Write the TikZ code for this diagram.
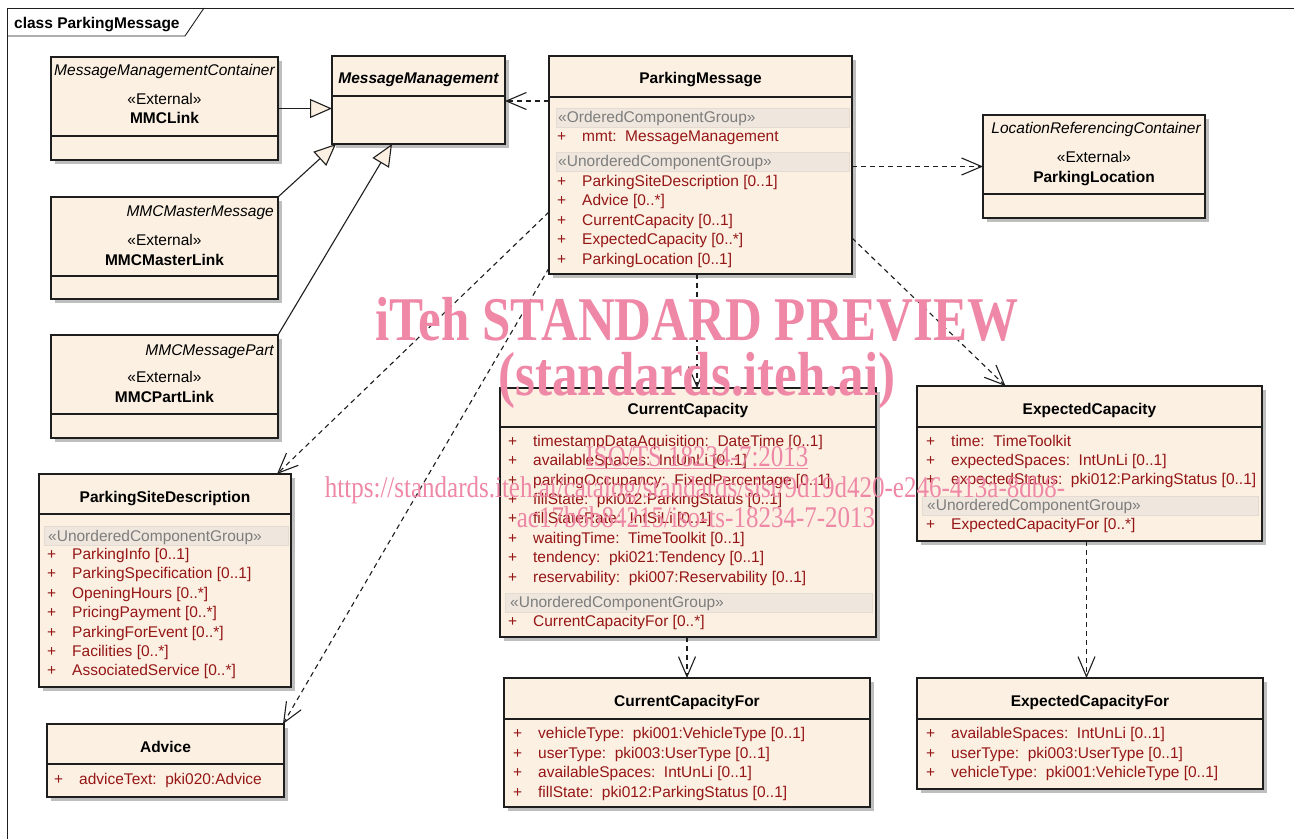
\documentclass[tikz,border=0pt]{standalone}
\usepackage{fontspec}
\setmainfont{Liberation Sans}
\newfontfamily\wmfont{Liberation Serif}
\usepackage{tikz}
\usetikzlibrary{arrows.meta,shadows,positioning}

\definecolor{clsfill}{RGB}{251,240,226}
\definecolor{clsline}{RGB}{30,30,30}
\definecolor{shadowgray}{RGB}{190,190,190}
\definecolor{attrred}{RGB}{150,22,22}
\definecolor{bandfill}{RGB}{239,231,221}
\definecolor{bandline}{RGB}{228,220,210}
\definecolor{bandtext}{RGB}{125,125,125}
\definecolor{wmpink}{RGB}{238,136,166}
\newcommand{\umlfont}{\fontsize{15.5}{19.4}\selectfont}
\newcommand{\umlplus}{\makebox[25pt][l]{+}}

\begin{document}
\begin{tikzpicture}[x=1pt, y=-1pt,
    cls/.style={rectangle, draw=clsline, fill=clsfill, line width=1.2pt, inner sep=0, outer sep=0, anchor=north west,
      drop shadow={shadow xshift=4pt, shadow yshift=-4pt, fill=shadowgray, opacity=1}},
    sep/.style={draw=clsline, line width=1.2pt},
    band/.style={rectangle, fill=bandfill, draw=bandline, line width=0.6pt, inner sep=0, anchor=north west, minimum height=19pt},
    ttl/.style={font=\umlfont\bfseries, inner sep=0, anchor=base},
    ttlit/.style={font=\umlfont\bfseries\itshape, inner sep=0, anchor=base},
    pkg/.style={font=\umlfont\itshape, inner sep=0, anchor=base east},
    stereo/.style={font=\umlfont, inner sep=0, anchor=base},
    grp/.style={font=\umlfont, text=bandtext, inner sep=0, anchor=base west},
    attr/.style={font=\umlfont, text=attrred, inner sep=0, anchor=base west},
    dep/.style={draw=clsline, line width=1.1pt, dash pattern=on 5pt off 4pt, -{Straight Barb[length=20pt, width=17pt, line width=1.1pt]}},
    gen/.style={draw=clsline, line width=1.1pt, -{Triangle[open, fill=clsfill, length=22pt, width=19pt, line width=1.1pt]}},
    wm/.style={text=wmpink, inner sep=0, anchor=base}
  ]
    \useasboundingbox[fill=white] (0,0) rectangle (1294,839);

    % Frame
    \draw[clsline, line width=0.9pt] (7,839) -- (7,8) -- (1294,8);
    \draw[clsline, line width=0.9pt] (7,36) -- (185,36) -- (204,8);
    \node[font=\umlfont\bfseries, inner sep=0, anchor=base west] (frame-t) at (14,28) {class ParkingMessage};

    % External classes
    \node[cls, minimum width=227pt, minimum height=103pt] (mmclink) at (51,57) {};
    \draw[sep] (51,136) -- (278,136);
    \node[pkg] (mmclink-p) at (275,75) {MessageManagementContainer};
    \node[stereo] (mmclink-s) at (164.5,104) {«External»};
    \node[ttl] (mmclink-t) at (164.5,123) {MMCLink};

    \node[cls, minimum width=227pt, minimum height=102pt] (mmcmaster) at (51,197) {};
    \draw[sep] (51,276) -- (278,276);
    \node[pkg] (mmcmaster-p) at (274,216) {MMCMasterMessage};
    \node[stereo] (mmcmaster-s) at (164.5,245) {«External»};
    \node[ttl] (mmcmaster-t) at (164.5,265) {MMCMasterLink};

    \node[cls, minimum width=227pt, minimum height=103pt] (mmcpart) at (51,335) {};
    \draw[sep] (51,414) -- (278,414);
    \node[pkg] (mmcpart-p) at (274,355) {MMCMessagePart};
    \node[stereo] (mmcpart-s) at (164.5,382) {«External»};
    \node[ttl] (mmcpart-t) at (164.5,402) {MMCPartLink};

    \node[cls, minimum width=222pt, minimum height=103pt] (ploc) at (983,115) {};
    \draw[sep] (983,194) -- (1205,194);
    \node[pkg] (ploc-p) at (1201,133) {LocationReferencingContainer};
    \node[stereo] (ploc-s) at (1094,162) {«External»};
    \node[ttl] (ploc-t) at (1094,182) {ParkingLocation};

    % Message management
    \node[cls, minimum width=173pt, minimum height=88pt] (mm) at (332,56) {};
    \draw[sep] (332,96) -- (505,96);
    \node[ttlit] (mm-t) at (418.5,83.5) {MessageManagement};

    % Parking message
    \node[cls, minimum width=303pt, minimum height=218pt] (pm) at (549,56) {};
    \draw[sep] (549,97) -- (852,97);
    \node[ttl] (pm-t) at (700.5,83.5) {ParkingMessage};
    \node[band, minimum width=293pt] (pm-b1) at (556,107.5) {};
    \node[grp] (pm-g1) at (558,122) {«OrderedComponentGroup»};
    \node[attr] (pm-a0) at (557,141) {\umlplus mmt:\ \ MessageManagement};
    \node[band, minimum width=293pt] (pm-b2) at (556,151.5) {};
    \node[grp] (pm-g2) at (558,166) {«UnorderedComponentGroup»};
    \node[attr] (pm-a1) at (557,186) {\umlplus ParkingSiteDescription [0..1]};
    \node[attr] (pm-a2) at (557,205) {\umlplus Advice [0..*]};
    \node[attr] (pm-a3) at (557,225) {\umlplus CurrentCapacity [0..1]};
    \node[attr] (pm-a4) at (557,244) {\umlplus ExpectedCapacity [0..*]};
    \node[attr] (pm-a5) at (557,264) {\umlplus ParkingLocation [0..1]};

    % Site description and advice
    \node[cls, minimum width=252pt, minimum height=213pt] (psd) at (39,474) {};
    \draw[sep] (39,514) -- (291,514);
    \node[ttl] (psd-t) at (165,502) {ParkingSiteDescription};
    \node[band, minimum width=244pt] (psd-b) at (44,525.5) {};
    \node[grp] (psd-g) at (48,541) {«UnorderedComponentGroup»};
    \node[attr] (psd-a1) at (47,559) {\umlplus ParkingInfo [0..1]};
    \node[attr] (psd-a2) at (47,578) {\umlplus ParkingSpecification [0..1]};
    \node[attr] (psd-a3) at (47,598) {\umlplus OpeningHours [0..*]};
    \node[attr] (psd-a4) at (47,617) {\umlplus PricingPayment [0..*]};
    \node[attr] (psd-a5) at (47,637) {\umlplus ParkingForEvent [0..*]};
    \node[attr] (psd-a6) at (47,656) {\umlplus Facilities [0..*]};
    \node[attr] (psd-a7) at (47,675) {\umlplus AssociatedService [0..*]};

    \node[cls, minimum width=237pt, minimum height=73pt] (advice) at (47,724) {};
    \draw[sep] (47,764) -- (284,764);
    \node[ttl] (advice-t) at (165.5,752) {Advice};
    \node[attr] (advice-a1) at (54,784) {\umlplus adviceText:\ \ pki020:Advice};

    % Current capacity
    \node[cls, minimum width=376pt, minimum height=249pt] (cc) at (500,388) {};
    \draw[sep] (500,427) -- (876,427);
    \node[ttl] (cc-t) at (688,414) {CurrentCapacity};
    \node[attr] (cc-a1) at (508,446) {\umlplus timestampDataAquisition:\ \ DateTime [0..1]};
    \node[attr] (cc-a2) at (508,465) {\umlplus availableSpaces:\ \ IntUnLi [0..1]};
    \node[attr] (cc-a3) at (508,485) {\umlplus parkingOccupancy:\ \ FixedPercentage [0..1]};
    \node[attr] (cc-a4) at (508,504) {\umlplus fillState:\ \ pki012:ParkingStatus [0..1]};
    \node[attr] (cc-a5) at (508,523) {\umlplus fillStateRate:\ \ IntSiLi [0..1]};
    \node[attr] (cc-a6) at (508,543) {\umlplus waitingTime:\ \ TimeToolkit [0..1]};
    \node[attr] (cc-a7) at (508,562) {\umlplus tendency:\ \ pki021:Tendency [0..1]};
    \node[attr] (cc-a8) at (508,582) {\umlplus reservability:\ \ pki007:Reservability [0..1]};
    \node[band, minimum width=367pt] (cc-b) at (505,592.5) {};
    \node[grp] (cc-g) at (510,607) {«UnorderedComponentGroup»};
    \node[attr] (cc-a9) at (508,626) {\umlplus CurrentCapacityFor [0..*]};

    \node[cls, minimum width=366pt, minimum height=129pt] (ccf) at (504,678) {};
    \draw[sep] (504,719) -- (870,719);
    \node[ttl] (ccf-t) at (687,706) {CurrentCapacityFor};
    \node[attr] (ccf-a1) at (513,738) {\umlplus vehicleType:\ \ pki001:VehicleType [0..1]};
    \node[attr] (ccf-a2) at (513,758) {\umlplus userType:\ \ pki003:UserType [0..1]};
    \node[attr] (ccf-a3) at (513,777) {\umlplus availableSpaces:\ \ IntUnLi [0..1]};
    \node[attr] (ccf-a4) at (513,797) {\umlplus fillState:\ \ pki012:ParkingStatus [0..1]};

    % Expected capacity
    \node[cls, minimum width=345pt, minimum height=155pt] (ec) at (917,386) {};
    \draw[sep] (917,427) -- (1262,427);
    \node[ttl] (ec-t) at (1089.5,414) {ExpectedCapacity};
    \node[attr] (ec-a1) at (926,446) {\umlplus time:\ \ TimeToolkit};
    \node[attr] (ec-a2) at (926,465) {\umlplus expectedSpaces:\ \ IntUnLi [0..1]};
    \node[attr] (ec-a3) at (926,484) {\umlplus expectedStatus:\ \ pki012:ParkingStatus [0..1]};
    \node[band, minimum width=336pt] (ec-b) at (922,495.5) {};
    \node[grp] (ec-g) at (927,510) {«UnorderedComponentGroup»};
    \node[attr] (ec-a4) at (926,529) {\umlplus ExpectedCapacityFor [0..*]};

    \node[cls, minimum width=346pt, minimum height=111pt] (ecf) at (917,678) {};
    \draw[sep] (917,719) -- (1263,719);
    \node[ttl] (ecf-t) at (1090,706) {ExpectedCapacityFor};
    \node[attr] (ecf-a1) at (926,738) {\umlplus availableSpaces:\ \ IntUnLi [0..1]};
    \node[attr] (ecf-a2) at (926,758) {\umlplus userType:\ \ pki003:UserType [0..1]};
    \node[attr] (ecf-a3) at (926,777) {\umlplus vehicleType:\ \ pki001:VehicleType [0..1]};

    % Generalizations
    \draw[gen] (mmclink.east) -- (mmclink.east -| mm.west);
    \draw[gen] (mmcmaster.north east) -- ([xshift=4pt]mm.south west);
    \draw[gen] (mmcpart.north east) -- ([xshift=60pt]mm.south west);

    % Dependencies
    \coordinate (cc-in) at ([xshift=-3.5pt]pm.south);
    \coordinate (ecf-in) at ([xshift=-3.5pt]ecf.north);
    \draw[dep] ([yshift=-45pt]pm.north west) -- ([yshift=-45pt]mm.north east);
    \draw[dep] (pm.east |- ploc.west) -- (ploc.west);
    \draw[dep] ([yshift=-156pt]pm.north west) -- ([xshift=-14pt]psd.north east);
    \draw[dep] ([yshift=-212pt]pm.north west) -- ([xshift=-1pt]advice.north east);
    \draw[dep] (cc-in) -- (cc-in |- cc.north);
    \draw[dep] ([yshift=-182pt]pm.north east) -- ([xshift=-84pt]ec.north);
    \draw[dep] (ccf.north |- cc.south) -- (ccf.north);
    \draw[dep] (ecf-in |- ec.south) -- (ecf-in);

    % Watermark
    \node[wm, font=\wmfont\fontsize{51}{60}\selectfont\bfseries] (wm-a) at (697,340) {\scalebox{1}[1.22]{iTeh STANDARD PREVIEW}};
    \node[wm, font=\wmfont\fontsize{51}{60}\selectfont\bfseries] (wm-b) at (697,395) {\scalebox{1}[1.22]{(standards.iteh.ai)}};
    \node[wm, font=\wmfont\fontsize{25}{30}\selectfont] (wm-c) at (697,466) {\scalebox{1}[1.2]{\underline{ISO/TS 18234-7:2013}}};
    \node[wm, font=\wmfont\fontsize{25}{30}\selectfont] (wm-d) at (695,497) {\scalebox{1}[1.2]{https://standards.iteh.ai/catalog/standards/sist/9d19d420-e246-413a-8db8-}};
    \node[wm, font=\wmfont\fontsize{25}{30}\selectfont] (wm-e) at (696,527) {\scalebox{1}[1.2]{ac17b6b84215/iso-ts-18234-7-2013}};
  \end{tikzpicture}
\end{document}
